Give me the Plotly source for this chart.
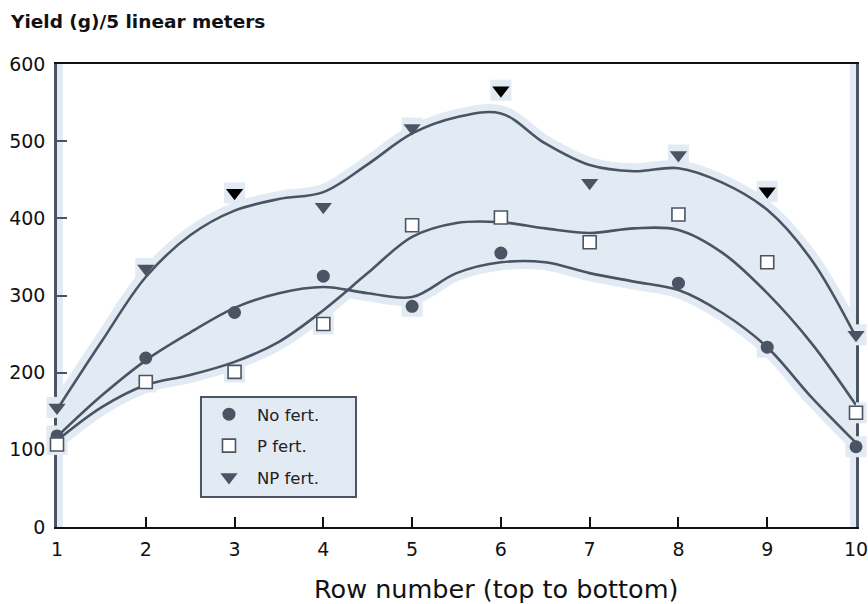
import plotly.graph_objects as go

# ---- data ----
rows = [1, 2, 3, 4, 5, 6, 7, 8, 9, 10]
no_fert = [118, 219, 278, 325, 286, 355, None, 316, 233, 104]
p_fert = [107, 188, 201, 263, 391, 401, 369, 405, 343, 148]
np_fert = [155, 335, 433, 415, 517, 566, 446, 482, 435, 249]

# fitted smooth curves (read at half-row steps)
curve_x = [1, 1.5, 2, 2.5, 3, 3.5, 4, 4.5, 5, 5.5, 6, 6.5, 7, 7.5, 8, 8.5, 9, 9.5, 10]
np_curve = [152, 240, 324, 378, 410, 425, 434, 470, 510, 531, 536, 497, 469, 461, 465, 446, 411, 346, 246]
p_curve = [112, 155, 184, 197, 214, 240, 281, 329, 376, 394, 395, 387, 381, 387, 385, 355, 303, 238, 158]
no_curve = [117, 170, 216, 252, 284, 303, 311, 303, 298, 329, 343, 343, 329, 318, 307, 277, 233, 168, 109]
lower_curve = [min(a, b) for a, b in zip(p_curve, no_curve)]

x_ticks = [1, 2, 3, 4, 5, 6, 7, 8, 9, 10]
y_ticks = [0, 100, 200, 300, 400, 500, 600]

LINE = "#4b5463"
HALO = "#e2eaf3"
FONT = "DejaVu Sans, sans-serif"

fig = go.Figure()

# shaded band between the lowest and highest curve
fig.add_trace(go.Scatter(x=curve_x, y=lower_curve, mode="lines", line=dict(width=0, shape="spline", color=HALO),
                         showlegend=False, hoverinfo="skip"))
fig.add_trace(go.Scatter(x=curve_x, y=np_curve, mode="lines", line=dict(width=0, shape="spline", color=HALO),
                         fill="tonexty", fillcolor=HALO, showlegend=False, hoverinfo="skip"))

# halos around curves
for cy in (np_curve, p_curve, no_curve):
    fig.add_trace(go.Scatter(x=curve_x, y=cy, mode="lines", line=dict(width=16, shape="spline", color=HALO),
                             showlegend=False, hoverinfo="skip", cliponaxis=False))
# halos around markers
for yy in (no_fert, p_fert, np_fert):
    fig.add_trace(go.Scatter(x=rows, y=yy, mode="markers", marker=dict(size=21, color=HALO, symbol="square"),
                             showlegend=False, hoverinfo="skip", cliponaxis=False))

# curves
for cy in (np_curve, p_curve, no_curve):
    fig.add_trace(go.Scatter(x=curve_x, y=cy, mode="lines", line=dict(width=2.6, shape="spline", color=LINE),
                             showlegend=False, hoverinfo="skip", cliponaxis=False))

# markers
np_colors = [LINE, LINE, "#000000", LINE, LINE, "#000000", LINE, LINE, "#000000", LINE]
fig.add_trace(go.Scatter(x=rows, y=no_fert, mode="markers", name="No fert.", legendgroup="a",
                         marker=dict(symbol="circle", size=13, color=LINE), cliponaxis=False))
fig.add_trace(go.Scatter(x=rows, y=p_fert, mode="markers", name="P fert.", legendgroup="b",
                         marker=dict(symbol="square", size=13, color="white", line=dict(color=LINE, width=1.6)),
                         cliponaxis=False))
fig.add_trace(go.Scatter(x=rows, y=np_fert, mode="markers", name="NP fert.", legendgroup="c",
                         marker=dict(symbol="triangle-down", size=15, color=np_colors), cliponaxis=False))

# halo behind the vertical frame lines
for xv in (1, 10):
    fig.add_shape(type="line", x0=xv, x1=xv, y0=0, y1=600, xref="x", yref="y",
                  line=dict(color=HALO, width=12), layer="below")

# legend frame
fig.add_shape(type="rect", xref="paper", yref="paper", x0=0.1802, x1=0.3742, y0=0.0648, y1=0.2808,
              fillcolor=HALO, line=dict(color=LINE, width=2), layer="above")

fig.update_layout(
    width=868, height=604,
    margin=dict(l=57, r=12, t=64, b=77, autoexpand=False),
    paper_bgcolor="white", plot_bgcolor="white",
    font=dict(family=FONT, color="#111111"),
    showlegend=True,
    legend=dict(x=0.1802, y=0.2808, xanchor="left", yanchor="top",
                bgcolor="rgba(0,0,0,0)", borderwidth=0,
                font=dict(size=16.5, color="#222222", family=FONT),
                traceorder="grouped", tracegroupgap=7, itemwidth=46),
    xaxis=dict(range=[1, 10], tickvals=x_ticks, ticktext=[str(v) for v in x_ticks],
               showgrid=False, zeroline=False, showline=True, linecolor="#111111", linewidth=2,
               mirror=True, ticks="inside", ticklen=10, tickwidth=2, tickcolor="#111111",
               tickfont=dict(size=19, family=FONT, color="#111111"), ticklabelstandoff=4,
               ticklabeloverflow="allow",
               automargin=False, layer="below traces"),
    yaxis=dict(range=[0, 600], tickvals=y_ticks, ticktext=[str(v) for v in y_ticks],
               showgrid=False, zeroline=False, showline=True, linecolor=LINE, linewidth=2.5,
               mirror=True, ticks="inside", ticklen=10, tickwidth=2, tickcolor=LINE,
               tickfont=dict(size=19, family=FONT, color="#111111"), ticklabelstandoff=5,
               automargin=False, layer="below traces"),
    annotations=[
        dict(text="<b>Yield (g)/5 linear meters</b>", xref="paper", yref="paper",
             x=-0.0615, y=1.091, xanchor="left", yanchor="middle", showarrow=False,
             font=dict(size=18.5, family=FONT, color="#111111")),
        dict(text="Row number (top to bottom)", xref="paper", yref="paper",
             x=0.549, y=-0.134, xanchor="center", yanchor="middle", showarrow=False,
             font=dict(size=25.5, family=FONT, color="#111111")),
    ],
)

fig.write_html("out.html", config={"displayModeBar": False},
               post_script="document.body.style.margin='0';document.body.style.overflow='hidden';")
